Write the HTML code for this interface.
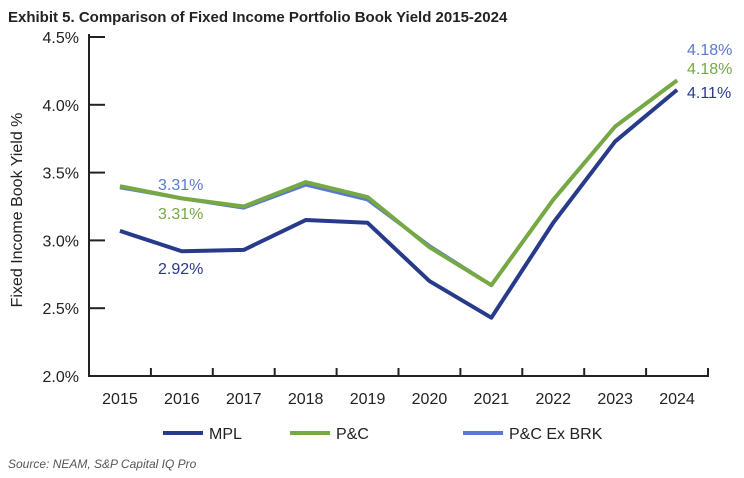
<!DOCTYPE html>
<html><head><meta charset="utf-8"><style>
body{margin:0;background:#fff;font-family:"Liberation Sans",sans-serif;}
#wrap{position:relative;width:744px;height:478px;overflow:hidden}
</style></head><body>
<div id="wrap">
<svg id="chart" width="744" height="478"></svg>
</div>
<script>
const years=["2015","2016","2017","2018","2019","2020","2021","2022","2023","2024"];
const mpl=[3.07,2.92,2.93,3.15,3.13,2.70,2.43,3.13,3.73,4.11];
const pc=[3.40,3.31,3.25,3.43,3.32,2.95,2.67,3.30,3.84,4.18];
const pcExBrk=[3.39,3.31,3.24,3.41,3.30,2.96,2.67,3.30,3.84,4.18];
const yTicks=[2.0,2.5,3.0,3.5,4.0,4.5];
const NS="http://www.w3.org/2000/svg";
const svg=document.getElementById('chart');
const X0=89,X1=708,Y0=376,Ymin=2.0,Ymax=4.5,Ytop=37;
const bw=(X1-X0)/years.length;
const xs=i=>X0+bw*(i+0.5);
const ys=v=>Y0-(v-Ymin)/(Ymax-Ymin)*(Y0-Ytop);
function el(t,a,txt){const e=document.createElementNS(NS,t);for(const k in a)e.setAttribute(k,a[k]);if(txt!==undefined)e.textContent=txt;svg.appendChild(e);return e;}
const F='"Liberation Sans",sans-serif';
let t=el('text',{x:8,y:22,'font-size':15,'font-weight':'bold',fill:'#222','font-family':F},'Exhibit 5. Comparison of Fixed Income Portfolio Book Yield 2015-2024');


let a=el('path',{d:`M${X0},${Ytop-3}V${Y0}H${X1}V${Y0-8}`,stroke:'#222','stroke-width':2,fill:'none'});


yTicks.forEach(v=>{
 const tk=el('line',{x1:X0,x2:X0+16,y1:ys(v),y2:ys(v),stroke:'#222','stroke-width':2});
 
 
 const l=el('text',{x:79,y:ys(v)+6,'text-anchor':'end','font-size':16,fill:'#222','font-family':F},v.toFixed(1)+'%');
 
 
});
years.forEach((y,i)=>{
 if(i>0){const tk=el('line',{x1:X0+bw*i,x2:X0+bw*i,y1:Y0,y2:Y0-8,stroke:'#222','stroke-width':2});
 
 }
 const l=el('text',{x:xs(i),y:404,'text-anchor':'middle','font-size':16,fill:'#222','font-family':F},y);
 
 
});
t=el('text',{x:0,y:0,transform:'translate(22,210) rotate(-90)','text-anchor':'middle','font-size':16,fill:'#222','font-family':F},'Fixed Income Book Yield %');


function line(vals,color,name,w){
 const p=el('polyline',{points:vals.map((v,i)=>xs(i)+','+ys(v)).join(' '),fill:'none',stroke:color,'stroke-width':w,'stroke-linejoin':'round'});
 
 
}
line(mpl,'#283a8a','mpl-line',4);
line(pcExBrk,'#5b79cf','pc-ex-brk-line',3.5);
line(pc,'#76a844','pc-line',4);
function lab(x,y,txt,c,name){const l=el('text',{x:x,y:y,'font-size':16,fill:c,'font-family':F},txt);
 
 }
lab(158,190,pcExBrk[1].toFixed(2)+'%','#5b79cf','label-pc-ex-brk-2016');
lab(158,219,pc[1].toFixed(2)+'%','#76a844','label-pc-2016');
lab(158,274,mpl[1].toFixed(2)+'%','#283a8a','label-mpl-2016');
lab(687,55,pcExBrk[9].toFixed(2)+'%','#5b79cf','label-pc-ex-brk-2024');
lab(687,74,pc[9].toFixed(2)+'%','#76a844','label-pc-2024');
lab(687,98,mpl[9].toFixed(2)+'%','#283a8a','label-mpl-2024');
const leg=[["MPL","#283a8a",163],["P&C","#76a844",290],["P&C Ex BRK","#5b79cf",463]];
leg.forEach(([n,c,x])=>{
 const g=el('line',{x1:x,x2:x+40,y1:433,y2:433,stroke:c,'stroke-width':4});
 
 
 const l=el('text',{x:x+46,y:439,'font-size':16,fill:'#222','font-family':F},n);
 
 
});
t=el('text',{x:8,y:468,'font-size':12,'font-style':'italic',fill:'#555','font-family':F},'Source: NEAM, S&P Capital IQ Pro');


</script>
</body></html>
